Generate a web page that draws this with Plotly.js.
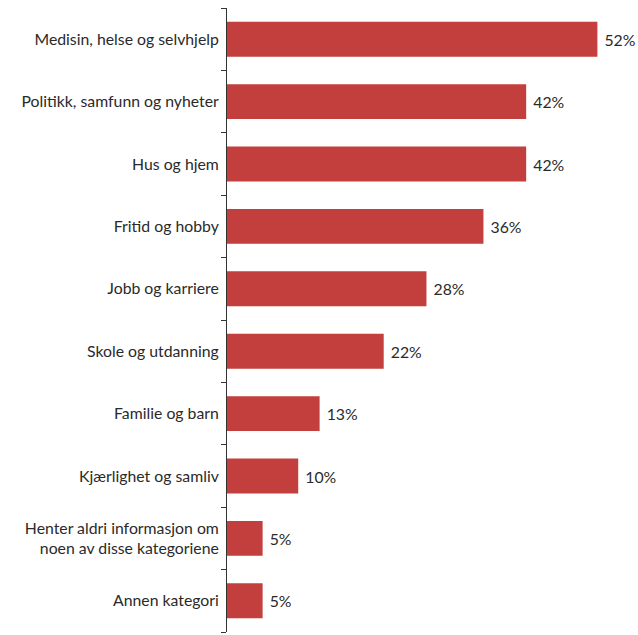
<!DOCTYPE html>
<html><head><meta charset="utf-8">
<script src="https://cdn.plot.ly/plotly-3.0.1.min.js"></script>
<style>html,body{margin:0;padding:0;background:#fff}</style>
</head><body>
<div id="chart" style="width:638px;height:635px"></div>
<script>
const categories = [
  "Medisin, helse og selvhjelp",
  "Politikk, samfunn og nyheter",
  "Hus og hjem",
  "Fritid og hobby",
  "Jobb og karriere",
  "Skole og utdanning",
  "Familie og barn",
  "Kjærlighet og samliv",
  "Henter aldri informasjon om<br>noen av disse kategoriene",
  "Annen kategori"
];
const values = [52, 42, 42, 36, 28, 22, 13, 10, 5, 5];
const valueLabels = ["52%", "42%", "42%", "36%", "28%", "22%", "13%", "10%", "5%", "5%"];
const categoryBoundaries = [-0.5, 0.5, 1.5, 2.5, 3.5, 4.5, 5.5, 6.5, 7.5, 8.5, 9.5];

const font = {family: "Lato, 'Open Sans', sans-serif", size: 15.8, color: "#2a2a2a"};

Plotly.newPlot("chart", [{
  type: "bar",
  orientation: "h",
  y: categories,
  x: values,
  text: valueLabels,
  texttemplate: "\u00a0%{text}",
  textposition: "outside",
  textfont: font,
  cliponaxis: false,
  marker: {color: "#c23f3d"},
  hoverinfo: "none"
}, {
  type: "scatter", mode: "markers",
  x: [null], y: [null], yaxis: "y2", hoverinfo: "none", showlegend: false
}], {
  width: 638, height: 635,
  margin: {l: 227, r: 0, t: 8, b: 3},
  paper_bgcolor: "#fff", plot_bgcolor: "#fff",
  bargap: 0.44,
  showlegend: false,
  font: font,
  xaxis: {range: [0, 57.7], visible: false, fixedrange: true},
  yaxis: {
    autorange: "reversed",
    showline: true, linecolor: "#333", linewidth: 1,
    ticks: "", showgrid: false, zeroline: false,
    tickfont: font, ticklabelstandoff: 4,
    automargin: false
  },
  yaxis2: {
    overlaying: "y", side: "left", type: "linear",
    range: [9.5, -0.5],
    tickmode: "array", tickvals: categoryBoundaries,
    ticks: "outside", ticklen: 5, tickcolor: "#333", tickwidth: 1,
    showticklabels: false, showgrid: false, zeroline: false, showline: false,
    automargin: false
  }
}, {displayModeBar: false, staticPlot: true});
</script>
</body></html>
